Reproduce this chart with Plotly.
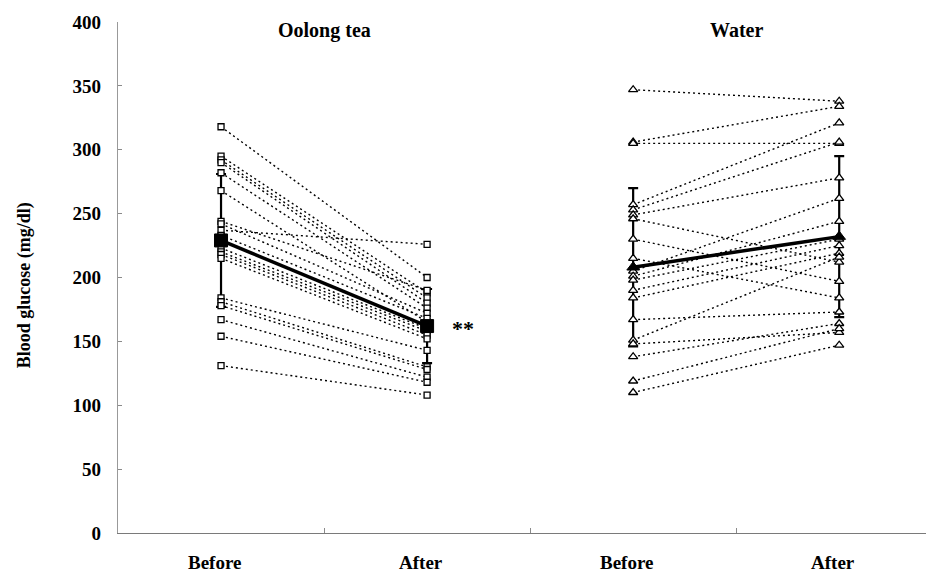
import plotly.graph_objects as go

# ---- data (mg/dl) ----
time_labels = ["Before", "After", "Before", "After"]
group_names = ["Oolong tea", "Water"]

oolong_before = [318, 295, 292, 290, 282, 268, 244, 242, 237, 233,
                 223, 220, 218, 215, 184, 181, 178, 167, 154, 131]
oolong_after = [200, 188, 184, 180, 176, 165, 190, 172, 226, 168,
                160, 158, 155, 152, 143, 130, 128, 122, 118, 108]
oolong_mean = [229, 162]
oolong_sd = [52, 29]

water_before = [347, 306, 305, 257, 253, 249, 246, 230, 215, 205,
                201, 198, 190, 184, 167, 151, 148, 138, 119, 110]
water_after = [338, 334, 305, 321, 306, 278, 212, 197, 184, 262,
               244, 230, 225, 219, 173, 216, 157, 164, 160, 147]
water_mean = [208, 232]
water_sd = [62, 63]

signif_text = "**"
signif_value = 160
y_ticks = [0, 50, 100, 150, 200, 250, 300, 350, 400]
x_positions = [0.5, 1.5, 2.5, 3.5]

FONT = "Liberation Serif, Times New Roman, serif"
# the page body adds an 8px offset, so the figure is 8px smaller in each direction
FIG_W, FIG_H = 926, 564
M_L, M_T, M_B = 110, 14, 39
PLOT_H = FIG_H - M_T - M_B

fig = go.Figure()


def add_group(xs, before, after, mean, sd, sym, msize, mean_size):
    lx, ly = [], []
    for b, a in zip(before, after):
        lx += [xs[0], xs[1], None]
        ly += [b, a, None]
    fig.add_trace(go.Scatter(x=lx, y=ly, mode="lines",
                             line=dict(color="black", width=1.4, dash="2px,3px"),
                             hoverinfo="skip"))
    fig.add_trace(go.Scatter(x=xs, y=mean, mode="lines",
                             line=dict(color="black", width=3.5),
                             error_y=dict(type="data", array=sd, color="black",
                                          thickness=2.2, width=5)))
    mx = [xs[0]] * len(before) + [xs[1]] * len(after)
    my = list(before) + list(after)
    fig.add_trace(go.Scatter(x=mx, y=my, mode="markers",
                             marker=dict(symbol=sym, size=msize, color="white",
                                         line=dict(color="black", width=1.3))))
    fig.add_trace(go.Scatter(x=xs, y=mean, mode="markers",
                             marker=dict(symbol=sym, size=mean_size, color="black",
                                         line=dict(color="black", width=1))))


add_group(x_positions[0:2], oolong_before, oolong_after, oolong_mean, oolong_sd,
          "square", 6, 13)
add_group(x_positions[2:4], water_before, water_after, water_mean, water_sd,
          "triangle-up", 8, 11)

# group titles
for i, name in enumerate(group_names):
    fig.add_annotation(x=1 + 2 * i, y=1 - 8 / PLOT_H, xref="x", yref="paper",
                       text=name, showarrow=False, xanchor="center", yanchor="middle",
                       font=dict(family=FONT, size=20, color="black", weight="bold"))

# x category labels
for xp, lab in zip(x_positions, time_labels):
    fig.add_annotation(x=xp - 0.03, y=-29 / PLOT_H, xref="x", yref="paper",
                       text=lab, showarrow=False, xanchor="center", yanchor="middle",
                       font=dict(family=FONT, size=19, color="black", weight="bold"))

fig.add_annotation(x=1.675, y=signif_value, xref="x", yref="y", text=signif_text,
                   showarrow=False, xanchor="center", yanchor="middle",
                   font=dict(family=FONT, size=22, color="black", weight="bold"))

fig.add_annotation(x=-0.115, y=(533 - 285) / PLOT_H, xref="paper", yref="paper",
                   text="Blood glucose (mg/dl)", textangle=-90, showarrow=False,
                   xanchor="center", yanchor="middle",
                   font=dict(family=FONT, size=18, color="black", weight="bold"))

fig.update_layout(
    width=FIG_W, height=FIG_H,
    margin=dict(l=M_L, r=0, t=M_T, b=M_B, autoexpand=False),
    paper_bgcolor="white", plot_bgcolor="white",
    showlegend=False,
    xaxis=dict(range=[0, 3.96], tickvals=x_positions, showticklabels=False,
               ticks="", showgrid=False, zeroline=False, automargin=False,
               showline=True, linecolor="#7a7a7a", linewidth=1.2,
               minor=dict(tickvals=[1, 2, 3], ticks="inside", ticklen=5,
                          tickcolor="#8a8a8a", tickwidth=1)),
    yaxis=dict(range=[0, 400], tickvals=y_ticks, ticks="inside", ticklen=4,
               tickcolor="#8a8a8a", showgrid=False, zeroline=False, automargin=False,
               showline=True, linecolor="#999999", linewidth=1.2,
               ticklabelstandoff=12,
               tickfont=dict(family=FONT, size=19, color="black", weight="bold")),
)

fig.write_html("out.html")
